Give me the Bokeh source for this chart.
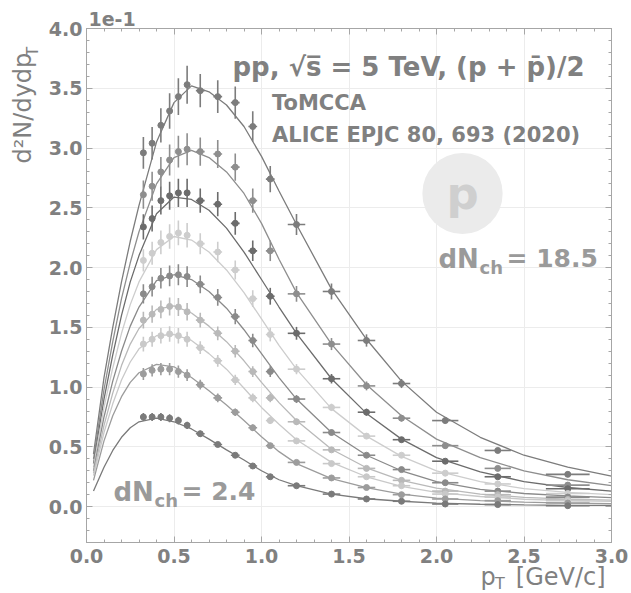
import numpy as np
from bokeh.plotting import figure
from bokeh.models import (Range1d, LinearAxis, SingleIntervalTicker, NumeralTickFormatter,
                          Label, Legend, LegendItem)
from bokeh.embed import file_html
from bokeh.resources import INLINE

# ---------------- data (values in units of 1e-1) ----------------
pt_bins = [0.325, 0.375, 0.425, 0.475, 0.525, 0.575, 0.65, 0.75, 0.85, 0.95, 1.05,
           1.2, 1.4, 1.6, 1.8, 2.05, 2.35, 2.75]
pt_xerr = [0.0125] * 6 + [0.025] * 5 + [0.05] * 4 + [0.075, 0.075, 0.125]
rel_err = [0.045] * 6 + [0.04] * 5 + [0.037] * 4 + [0.033, 0.03, 0.03]

alice_1 = [2.96, 3.04, 3.19, 3.31, 3.43, 3.53, 3.48, 3.43, 3.38, 3.18, 2.74, 2.36, 1.80, 1.39, 1.03, 0.72, 0.47, 0.27]
alice_2 = [2.61, 2.68, 2.80, 2.90, 2.97, 2.99, 2.97, 2.95, 2.84, 2.56, 2.14, 1.78, 1.36, 1.01, 0.74, 0.51, 0.32, 0.18]
alice_3 = [2.34, 2.41, 2.56, 2.60, 2.625, 2.625, 2.56, 2.53, 2.37, 2.14, 1.76, 1.45, 1.07, 0.79, 0.56, 0.38, 0.25, 0.15]
alice_4 = [2.06, 2.12, 2.21, 2.26, 2.29, 2.27, 2.20, 2.13, 1.98, 1.74, 1.44, 1.15, 0.83, 0.59, 0.43, 0.28, 0.19, 0.11]
alice_5 = [1.78, 1.84, 1.91, 1.93, 1.94, 1.925, 1.86, 1.75, 1.59, 1.39, 1.13, 0.90, 0.62, 0.43, 0.31, 0.20, 0.13, 0.08]
alice_6 = [1.56, 1.61, 1.65, 1.675, 1.67, 1.63, 1.56, 1.45, 1.30, 1.13, 0.91, 0.71, 0.475, 0.32, 0.22, 0.13, 0.10, 0.06]
alice_7 = [1.36, 1.40, 1.43, 1.445, 1.43, 1.40, 1.33, 1.22, 1.06, 0.91, 0.72, 0.55, 0.36, 0.25, 0.175, 0.105, 0.08, 0.05]
alice_8 = [1.11, 1.14, 1.15, 1.15, 1.13, 1.10, 1.02, 0.91, 0.79, 0.66, 0.51, 0.37, 0.24, 0.16, 0.10, 0.064, 0.05, 0.03]
alice_9 = [0.75, 0.75, 0.75, 0.74, 0.72, 0.68, 0.61, 0.52, 0.43, 0.34, 0.25, 0.175, 0.105, 0.064, 0.045, 0.022, 0.017, 0.008]

model_pt = [0.04, 0.1, 0.15, 0.2, 0.25, 0.3, 0.4, 0.5, 0.6, 0.7, 0.8, 0.9, 1.0, 1.1, 1.2,
            1.4, 1.6, 1.8, 2.0, 2.25, 2.5, 2.75, 3.0]
model_1 = [0.44, 1.08, 1.50, 1.88, 2.22, 2.52, 3.05, 3.38, 3.52, 3.47, 3.36, 3.18, 2.93, 2.64, 2.36, 1.82, 1.40, 1.05, 0.79, 0.58, 0.43, 0.33, 0.255]
model_2 = [0.40, 0.98, 1.38, 1.74, 2.04, 2.30, 2.70, 2.92, 2.98, 2.92, 2.80, 2.62, 2.37, 2.07, 1.79, 1.36, 1.02, 0.76, 0.565, 0.41, 0.30, 0.225, 0.175]
model_3 = [0.36, 0.90, 1.27, 1.60, 1.88, 2.10, 2.45, 2.59, 2.57, 2.48, 2.33, 2.13, 1.90, 1.67, 1.45, 1.07, 0.78, 0.565, 0.41, 0.29, 0.21, 0.16, 0.13]
model_4 = [0.33, 0.83, 1.16, 1.45, 1.69, 1.88, 2.15, 2.26, 2.23, 2.13, 1.98, 1.79, 1.57, 1.35, 1.15, 0.82, 0.59, 0.42, 0.30, 0.21, 0.15, 0.12, 0.10]
model_5 = [0.30, 0.75, 1.05, 1.30, 1.51, 1.67, 1.89, 1.94, 1.90, 1.80, 1.66, 1.48, 1.28, 1.08, 0.90, 0.62, 0.43, 0.30, 0.21, 0.145, 0.11, 0.09, 0.075]
model_6 = [0.28, 0.68, 0.95, 1.18, 1.36, 1.49, 1.65, 1.68, 1.62, 1.51, 1.38, 1.22, 1.04, 0.87, 0.72, 0.48, 0.325, 0.22, 0.155, 0.105, 0.078, 0.063, 0.055]
model_7 = [0.26, 0.62, 0.86, 1.06, 1.21, 1.32, 1.43, 1.44, 1.39, 1.28, 1.15, 0.99, 0.83, 0.69, 0.56, 0.37, 0.25, 0.17, 0.12, 0.085, 0.062, 0.05, 0.045]
model_8 = [0.22, 0.55, 0.76, 0.92, 1.04, 1.12, 1.19, 1.17, 1.08, 0.97, 0.85, 0.72, 0.585, 0.46, 0.36, 0.235, 0.16, 0.105, 0.072, 0.05, 0.038, 0.03, 0.025]
model_9 = [0.13, 0.33, 0.47, 0.58, 0.66, 0.71, 0.74, 0.71, 0.65, 0.565, 0.475, 0.39, 0.30, 0.225, 0.175, 0.105, 0.066, 0.045, 0.03, 0.02, 0.014, 0.011, 0.01]

class_colors = ["#7c7c7c", "#8e8e8e", "#6c6c6c", "#cdcdcd", "#8a8a8a",
                "#b9b9b9", "#c9c9c9", "#9c9c9c", "#7a7a7a"]
dnch_high = "18.5"
dnch_low = "2.4"

alice = [alice_1, alice_2, alice_3, alice_4, alice_5, alice_6, alice_7, alice_8, alice_9]
models = [model_1, model_2, model_3, model_4, model_5, model_6, model_7, model_8, model_9]

# ---------------- figure ----------------
FONT = "DejaVu Sans"
GREY = "#808080"
LIGHT = "#9a9a9a"
FRAME = "#a6a6a6"
W, H = 631, 593
FL, FR, FT, FB = 86, 611, 28, 542   # frame edges in page pixels
MID = 0.346                          # em offset between alphabetic baseline and middle

p = figure(width=W, height=H, x_range=Range1d(0.0, 3.0), y_range=Range1d(-0.3, 4.0),
           output_backend="svg", toolbar_location=None,
           min_border_left=FL, min_border_right=W - FR,
           min_border_top=FT, min_border_bottom=H - FB)
p.background_fill_color = "white"
p.border_fill_color = "white"
p.outline_line_color = FRAME


def style_axis(ax, labels=True, standoff=5):
    ax.ticker = SingleIntervalTicker(interval=0.5, num_minor_ticks=5)
    ax.formatter = NumeralTickFormatter(format="0.0")
    ax.axis_line_color = FRAME
    ax.major_tick_line_color = FRAME
    ax.minor_tick_line_color = FRAME
    ax.major_tick_in = 6
    ax.major_tick_out = 0
    ax.minor_tick_in = 3
    ax.minor_tick_out = 0
    ax.major_label_text_font = FONT
    ax.major_label_text_font_style = "bold"
    if labels:
        ax.major_label_text_color = GREY
        ax.major_label_text_font_size = "19px"
        ax.major_label_standoff = standoff
    else:
        ax.major_label_text_color = None
        ax.major_label_text_font_size = "0px"
        ax.major_label_standoff = 0


style_axis(p.xaxis[0], True, 6)
style_axis(p.yaxis[0], True, 4)
ax_r = LinearAxis()
style_axis(ax_r, False)
p.add_layout(ax_r, "right")
ax_t = LinearAxis()
style_axis(ax_t, False)
p.add_layout(ax_t, "above")

p.xgrid.grid_line_color = "#ececec"
p.ygrid.grid_line_color = "#ececec"

# model curves
for m, c in zip(models, class_colors):
    p.line(model_pt, m, line_color=c, line_width=1.3)

# data points with error bars
x = np.array(pt_bins)
ex = np.array(pt_xerr)
for a, c in zip(alice, class_colors):
    y = np.array(a)
    ey = y * np.array(rel_err)
    p.segment(x0=x, y0=y - ey, x1=x, y1=y + ey, line_color=c, line_width=1.6)
    p.segment(x0=x - ex, y0=y, x1=x + ex, y1=y, line_color=c, line_width=1.6)
    p.scatter(x, y, marker="circle", size=6, fill_color=c, line_color=c)

# ---------------- legend ----------------
leg_line = p.line(x=[], y=[], line_color="#8c8c8c", line_width=1.3)
leg_h = p.segment(x0=[], y0=[], x1=[], y1=[], line_color="#8c8c8c", line_width=1.6)
leg_v = p.scatter(x=[], y=[], marker="cross", line_color="#8c8c8c", line_width=1.6)
leg_d = p.scatter(x=[], y=[], marker="circle", fill_color="#8c8c8c", line_color="#8c8c8c")


def legend(items, loc, gw, gh, standoff):
    lg = Legend(items=items, location=loc, padding=0, margin=0, spacing=0,
                glyph_width=gw, glyph_height=gh, label_height=gh,
                label_standoff=standoff, border_line_color=None,
                background_fill_alpha=0.0,
                label_text_font=FONT, label_text_font_style="bold",
                label_text_font_size="21px", label_text_color=GREY)
    p.add_layout(lg, "center")


legend([LegendItem(label="ToMCCA", renderers=[leg_line])],
       (222 - FL, FB - 116), 31, 26, 19)
legend([LegendItem(label="ALICE EPJC 80, 693 (2020)", renderers=[leg_h, leg_v, leg_d])],
       (227 - FL, FB - 148), 21, 26, 24)


# ---------------- text ----------------
def lab(text, x, y, size, color=GREY, bold=True, align="left", angle=0.0,
        place="center", **kw):
    L = Label(x=x, y=y, x_units="screen", y_units="screen", text=text,
              text_font=FONT, text_font_size=f"{size}px",
              text_font_style="bold" if bold else "normal", text_color=color,
              text_align=align, text_baseline="middle", angle=angle, **kw)
    p.add_layout(L, place)
    return L


def inside(text, px, base, size, **kw):
    # px: left edge, base: alphabetic baseline, both in page pixels
    return lab(text, px - FL, FB - (base - MID * size), size, **kw)


inside("pp, √s̅ = 5 TeV, (p + p̄)/2", 232, 75, 26)

# particle badge
lab("p", 462 - FL, FB - 193, 45, color="#cfcfcf", align="center",
    background_fill_color="#ebebeb", border_radius=40, padding=(24, 14))

# multiplicity annotations
inside("dN", 438, 267, 26, color=LIGHT)
inside("ch", 479, 273, 18, color=LIGHT)
inside("= " + dnch_high, 506, 267, 25, color=LIGHT)
inside("dN", 113, 500, 26, color=LIGHT)
inside("ch", 154, 506, 18, color=LIGHT)
inside("= " + dnch_low, 181, 500, 25, color=LIGHT)

# texts outside the frame live in side panels (positions relative to each panel)
# left panel 1: y-axis title, rotated
lab("d²N/dydp", 5.95, FB - 163, 24, bold=False, angle=np.pi / 2, place="left")
# left panel 2: subscript of the x-axis title
lab("T", 487.6, FB - (589 - MID * 16), 16, bold=False, place="left")
# right panel: subscript of the y-axis title, rotated
lab("T", (38 - MID * 16) - FR, 528 - 42, 16, bold=False, angle=np.pi / 2, place="right")
# above panel: x-axis title
lab("p\u00a0\u00a0\u2009[GeV/c]", 480 - FL, 28.75 - (586 - MID * 24), 24, bold=False,
    place="above")
# below panel: offset text of the y axis
lab("1e-1", 88 - FL, 579 - (25 - MID * 19), 19, place="below")

open("out.html", "w").write(file_html(p, INLINE))
